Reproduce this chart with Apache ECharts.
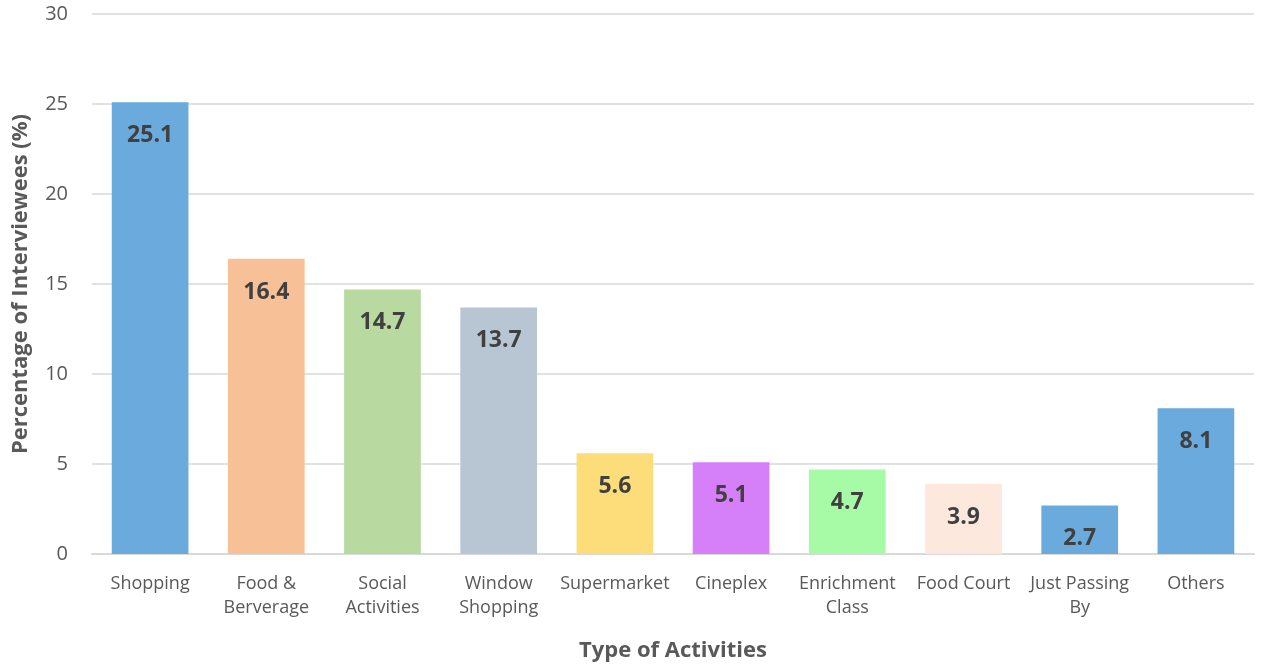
<!DOCTYPE html>
<html><head><meta charset="utf-8">
<script src="https://cdn.jsdelivr.net/npm/echarts@6/dist/echarts.min.js"></script>
<style>html,body{margin:0;padding:0;background:#fff}#c{width:1261px;height:665px}</style>
</head><body><div id="c"></div>
<script>
const categories = ["Shopping","Food &\nBerverage","Social\nActivities","Window\nShopping","Supermarket","Cineplex","Enrichment\nClass","Food Court","Just Passing\nBy","Others"];
const values = [25.1,16.4,14.7,13.7,5.6,5.1,4.7,3.9,2.7,8.1];
const barColors = ["#6aaadc","#f7c096","#b8d9a0","#b8c5d3","#fddd7a","#d57ff8","#a8fba6","#fce8dc","#6aaadc","#6aaadc"];
const yTicks = {min:0,max:30,interval:5};
const chart = echarts.init(document.getElementById('c'));
chart.setOption({
  animation:false,
  textStyle:{fontFamily:"Open Sans"},
  grid:{left:92,right:7,top:14,bottom:111,outerBoundsMode:'none',containLabel:false},
  xAxis:{type:'category',data:categories,
    name:'Type of Activities',nameLocation:'middle',nameGap:86,
    nameTextStyle:{fontSize:22,fontWeight:'bold',color:'#595959',fontFamily:'Open Sans'},
    axisLine:{lineStyle:{color:'#d9d9d9',width:2}},axisTick:{show:false},
    axisLabel:{fontSize:18,color:'#595959',lineHeight:24,margin:18,interval:0,fontFamily:'Open Sans'}},
  yAxis:{type:'value',min:yTicks.min,max:yTicks.max,interval:yTicks.interval,
    name:'Percentage of Interviewees (%)',nameLocation:'middle',nameGap:60,
    nameTextStyle:{fontSize:22,fontWeight:'bold',color:'#595959',fontFamily:'Open Sans'},
    axisLine:{show:false},axisTick:{show:false},
    axisLabel:{fontSize:20,color:'#595959',margin:24,fontFamily:'Open Sans'},
    splitLine:{lineStyle:{color:'#d9d9d9',width:1.5}}},
  series:[{type:'bar',barWidth:'66%',
    data:values.map((v,i)=>({value:v,itemStyle:{color:barColors[i]}})),
    label:{show:true,position:'insideTop',distance:22,fontSize:23,fontWeight:'bold',color:'#404040',fontFamily:'Open Sans'}}]
});
</script></body></html>
